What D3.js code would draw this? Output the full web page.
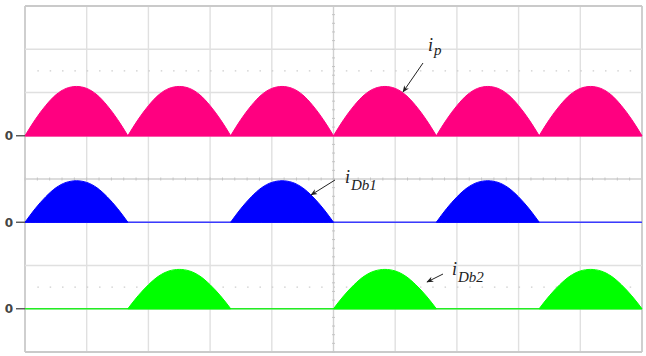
<!DOCTYPE html>
<html>
<head>
<meta charset="utf-8">
<script src="https://cdn.jsdelivr.net/npm/d3@7"></script>
<style>
  body { margin: 0; background: #fff; }
  svg { display: block; }
</style>
</head>
<body>
<svg id="scope" width="646" height="356"></svg>
<script>
// Screen is 10 divisions wide and 8 divisions high (oscilloscope style)
const xDivs = [0, 1, 2, 3, 4, 5, 6, 7, 8, 9, 10];
const yDivs = [0, 1, 2, 3, 4, 5, 6, 7, 8];

// Shape of one current pulse (phase 0..1 -> level 0..1)
const humpPhase = [0, 0.05, 0.1, 0.2, 0.3, 0.4, 0.5, 0.6, 0.7, 0.8, 0.9, 0.95, 1];
const humpLevel = [0, 0.17, 0.33, 0.61, 0.83, 0.96, 1, 0.96, 0.83, 0.61, 0.33, 0.17, 0];

// Pulse start positions (in divisions) and pulse width
const pulseWidth = 1.667;
const ipStarts = [0, 1.667, 3.333, 5, 6.667, 8.333];
const iDb1Starts = [0, 3.333, 6.667];
const iDb2Starts = [1.667, 5, 8.333];

// Channels: zero level (division), pulse height (division), colour, label
const channels = [
    {name: "ip", zero: 5, amp: 1.14, color: "#ff0080", base: "#ff0080", starts: ipStarts},
    {name: "iDb1", zero: 3, amp: 0.96, color: "#0000ff", base: "#3a3aff", starts: iDb1Starts},
    {name: "iDb2", zero: 1, amp: 0.91, color: "#00ff00", base: "#22ee22", starts: iDb2Starts}
];

// Dotted reference levels (division)
const dottedLevels = [6.5, 1.5];

let svg = d3.select("#scope");

let xScale = d3.scaleLinear().domain([0, 10]).range([25, 642]);
let yScale = d3.scaleLinear().domain([0, 8]).range([352, 6]);

// Grid
let grid = svg.append("g");
grid.selectAll("line.v")
    .data(xDivs)
    .enter().append("line")
    .attr("x1", d => xScale(d)).attr("x2", d => xScale(d))
    .attr("y1", yScale(0)).attr("y2", yScale(8))
    .attr("stroke", d => (d === 0 || d === 10) ? "#cacaca" : (d === 5 ? "#d0d0d0" : "#e0e0e0"))
    .attr("stroke-width", d => (d === 0 || d === 10) ? 1.8 : 1.4);

grid.selectAll("line.h")
    .data(yDivs)
    .enter().append("line")
    .attr("x1", xScale(0)).attr("x2", xScale(10))
    .attr("y1", d => yScale(d)).attr("y2", d => yScale(d))
    .attr("stroke", d => (d === 0 || d === 8) ? "#cacaca" : (d === 4 ? "#d0d0d0" : "#e0e0e0"))
    .attr("stroke-width", d => (d === 0 || d === 8) ? 1.8 : 1.4);

// Dotted levels
grid.selectAll("line.dot")
    .data(dottedLevels)
    .enter().append("line")
    .attr("x1", xScale(0.2)).attr("x2", xScale(10))
    .attr("y1", d => yScale(d)).attr("y2", d => yScale(d))
    .attr("stroke", "#cdcdcd")
    .attr("stroke-width", 1.3)
    .attr("stroke-dasharray", "1.5," + (xScale(0.2) - xScale(0) - 1.5));

// Minor ticks along centre axes
let minorX = d3.range(0, 50).map(i => i / 5);
let minorY = d3.range(0, 40).map(i => i / 5);
grid.selectAll("line.mx")
    .data(minorX)
    .enter().append("line")
    .attr("x1", d => xScale(d)).attr("x2", d => xScale(d))
    .attr("y1", yScale(4) - 1.5).attr("y2", yScale(4) + 1.5)
    .attr("stroke", "#c4c4c4");
grid.selectAll("line.my")
    .data(minorY)
    .enter().append("line")
    .attr("x1", xScale(5) - 1.5).attr("x2", xScale(5) + 1.5)
    .attr("y1", d => yScale(d)).attr("y2", d => yScale(d))
    .attr("stroke", "#c4c4c4");

// Waveforms
let hump = humpPhase.map((p, i) => [p, humpLevel[i]]);

channels.forEach(ch => {
    let g = svg.append("g");

    // baseline of the channel
    g.append("line")
        .attr("x1", xScale(0)).attr("x2", xScale(10))
        .attr("y1", yScale(ch.zero)).attr("y2", yScale(ch.zero))
        .attr("stroke", ch.base)
        .attr("stroke-width", 1.6);

    ch.starts.forEach(s => {
        let area = d3.area()
            .x(d => xScale(s + d[0] * pulseWidth))
            .y0(yScale(ch.zero))
            .y1(d => yScale(ch.zero + ch.amp * d[1]))
            .curve(d3.curveMonotoneX);
        g.append("path")
            .attr("d", area(hump))
            .attr("fill", ch.color)
            .attr("stroke", ch.color)
            .attr("stroke-width", 1);
    });

    // zero marker on the left
    g.append("line")
        .attr("x1", xScale(0) - 9).attr("x2", xScale(0))
        .attr("y1", yScale(ch.zero)).attr("y2", yScale(ch.zero))
        .attr("stroke", "#555")
        .attr("stroke-width", 1.4);
    g.append("text")
        .attr("x", 9)
        .attr("y", yScale(ch.zero) + 4.5)
        .attr("text-anchor", "middle")
        .style("font-family", "'DejaVu Sans', Arial, sans-serif")
        .style("font-size", "12px")
        .style("font-weight", "bold")
        .style("fill", "#444")
        .text("0");
});

// Labels with arrows
svg.append("defs").append("marker")
    .attr("id", "arrow")
    .attr("viewBox", "0 0 10 10")
    .attr("refX", 9).attr("refY", 5)
    .attr("markerWidth", 7).attr("markerHeight", 7)
    .attr("orient", "auto")
    .append("path")
    .attr("d", "M0,1 L10,5 L0,9 L3,5 Z")
    .attr("fill", "#222");

const labels = [
    {main: "i", sub: "p", x: 428, y: 51, subDy: 4, from: [423, 63], to: [403, 92]},
    {main: "i", sub: "Db1", x: 345, y: 183, subDy: 7, from: [335, 180], to: [311, 195]},
    {main: "i", sub: "Db2", x: 452, y: 275, subDy: 7, from: [443, 274], to: [427, 282]}
];

labels.forEach(l => {
    svg.append("line")
        .attr("x1", l.from[0]).attr("y1", l.from[1])
        .attr("x2", l.to[0]).attr("y2", l.to[1])
        .attr("stroke", "#222")
        .attr("stroke-width", 1)
        .attr("marker-end", "url(#arrow)");
    let t = svg.append("text")
        .attr("x", l.x).attr("y", l.y)
        .style("font-family", "'Liberation Serif', 'Times New Roman', serif")
        .style("font-style", "italic")
        .style("font-size", "18px")
        .style("fill", "#222");
    t.append("tspan").text(l.main);
    t.append("tspan")
        .attr("dy", l.subDy)
        .attr("dx", 1)
        .style("font-size", "15px")
        .text(l.sub);
});
</script>
</body>
</html>
